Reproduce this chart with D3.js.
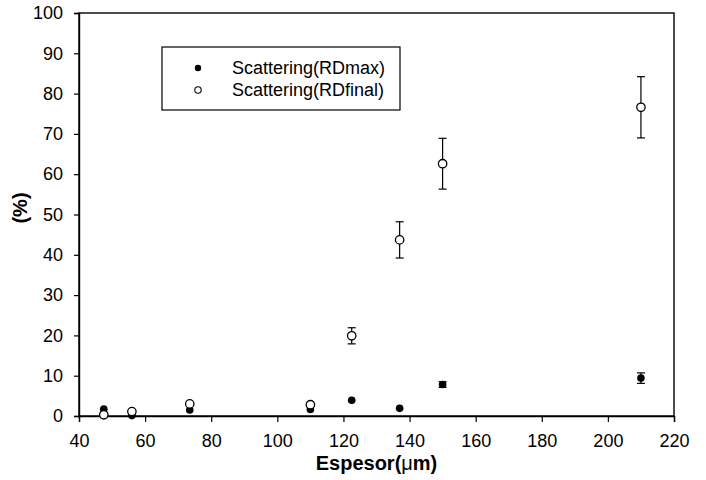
<!DOCTYPE html>
<html><head><meta charset="utf-8">
<script src="https://cdn.jsdelivr.net/npm/d3@7"></script>
<style>body{margin:0;background:#fff}svg{display:block}text{font-family:"Liberation Sans",Arial,sans-serif}</style>
</head><body>
<script>
const thickness = [47.5, 56, 73.5, 110, 122.5, 137, 150, 210];
const rdMax = [1.7, 0.1, 1.5, 1.6, 3.9, 1.9, 7.8, 9.4];
const rdMaxErr = [0, 0, 0, 0, 0, 0, 0.7, 1.3];
const rdFinal = [0.3, 1.1, 3.0, 2.8, 19.9, 43.7, 62.6, 76.6];
const rdFinalErr = [0, 0, 0, 0, 2.0, 4.5, 6.3, 7.6];
const xTicks = [40, 60, 80, 100, 120, 140, 160, 180, 200, 220];
const yTicks = [0, 10, 20, 30, 40, 50, 60, 70, 80, 90, 100];
const seriesNames = ["Scattering(RDmax)", "Scattering(RDfinal)"];

const W = 706, H = 480;
const svg = d3.select("body").append("svg").attr("width", W).attr("height", H);
const x = d3.scaleLinear().domain([40, 220]).range([79, 674]);
const y = d3.scaleLinear().domain([0, 100]).range([416, 13]);

// frame
svg.append("rect").attr("x", x(40)).attr("y", y(100)).attr("width", x(220) - x(40)).attr("height", y(0) - y(100))
  .attr("fill", "none").attr("stroke", "#000").attr("stroke-width", 1.4);

const xa = svg.append("g").attr("transform", `translate(0,${y(0)})`)
  .call(d3.axisBottom(x).tickValues(xTicks).tickSize(6).tickPadding(12).tickFormat(d3.format("d")));
const ya = svg.append("g").attr("transform", `translate(${x(40)},0)`)
  .call(d3.axisLeft(y).tickValues(yTicks).tickSize(5).tickPadding(11).tickFormat(d3.format("d")));
[xa, ya].forEach(a => {
  a.select(".domain").attr("stroke-width", 1.4);
  a.selectAll(".tick line").attr("stroke-width", 1.2);
  a.selectAll("text").attr("font-size", 18).attr("font-family", "Liberation Sans, Arial, sans-serif").attr("fill", "#000");
});

// axis titles
svg.append("text").attr("x", x(130)).attr("y", 470).attr("text-anchor", "middle")
  .attr("font-size", 20).attr("font-weight", "bold")
  .html('Espesor(<tspan font-weight="normal">μ</tspan>m)');
svg.append("text").attr("transform", `translate(27,208) rotate(-90)`).attr("text-anchor", "middle")
  .attr("font-size", 20).attr("font-weight", "bold").text("(%)");

// error bars
function errBars(vals, errs) {
  const g = svg.append("g").attr("stroke", "#000").attr("stroke-width", 1.2);
  thickness.forEach((t, i) => {
    if (!errs[i]) return;
    const cx = x(t);
    g.append("line").attr("x1", cx).attr("x2", cx).attr("y1", y(vals[i] - errs[i])).attr("y2", y(vals[i] + errs[i]));
    [vals[i] - errs[i], vals[i] + errs[i]].forEach(v =>
      g.append("line").attr("x1", cx - 4).attr("x2", cx + 4).attr("y1", y(v)).attr("y2", y(v)));
  });
}
errBars(rdFinal, rdFinalErr);
errBars(rdMax, rdMaxErr);

svg.append("g").selectAll("circle").data(thickness).join("circle")
  .attr("cx", d => x(d)).attr("cy", (d, i) => y(rdMax[i])).attr("r", 3.8).attr("fill", "#000");
svg.append("g").selectAll("circle").data(thickness).join("circle")
  .attr("cx", d => x(d)).attr("cy", (d, i) => y(rdFinal[i])).attr("r", 4.2)
  .attr("fill", "#fff").attr("stroke", "#000").attr("stroke-width", 1.3);

// legend
const lg = svg.append("g");
lg.append("rect").attr("x", 162).attr("y", 47).attr("width", 238).attr("height", 63)
  .attr("fill", "#fff").attr("stroke", "#000").attr("stroke-width", 1.2);
lg.append("circle").attr("cx", 198).attr("cy", 68).attr("r", 3.2).attr("fill", "#000");
lg.append("circle").attr("cx", 198).attr("cy", 90).attr("r", 3.2).attr("fill", "#fff").attr("stroke", "#000").attr("stroke-width", 1.1);
seriesNames.forEach((s, i) => lg.append("text").attr("x", 232).attr("y", 74 + i * 22).attr("font-size", 18).text(s));
</script>
</body></html>
